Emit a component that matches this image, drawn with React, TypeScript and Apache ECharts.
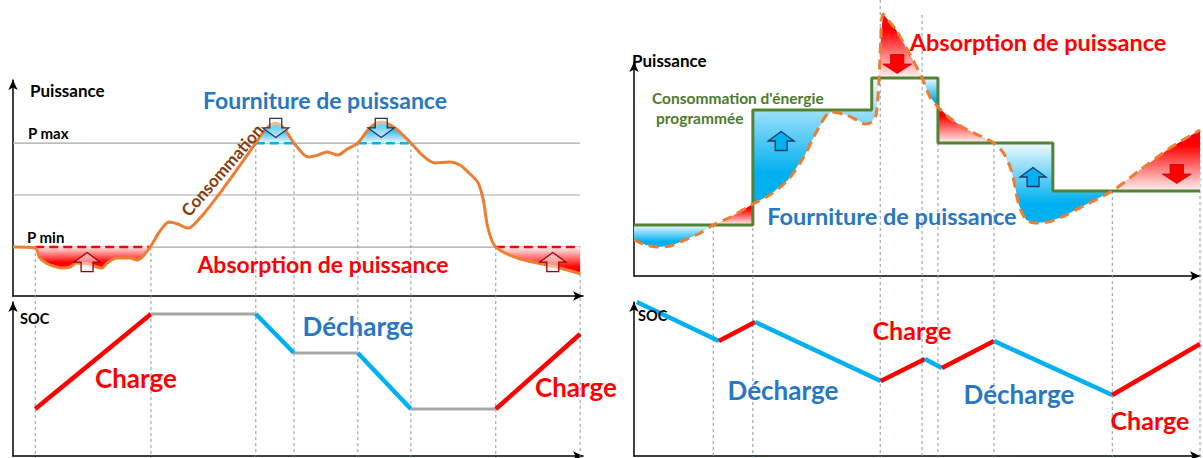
import React, { useEffect, useRef } from 'react';
import * as echarts from 'echarts';

type P = [number, number];

// ---------- left panel (constant thresholds) ----------
const leftLevels = [23.8, 49.1, 74.3]; // P min, middle, P max
const leftConsumption: P[] = [
  [0, 23.8], [3.9, 23.3], [4.7, 18.5], [5.8, 16], [7, 14.6], [8.6, 13.6], [10, 14.1], [11.1, 16],
  [13.2, 15.6], [14.7, 14.1], [15.6, 13.6], [16.5, 16], [18.2, 18.5], [20.5, 18.5], [21.8, 17.5],
  [22.8, 19.4], [24.2, 24.3], [25.8, 31.6], [27.4, 36], [28.9, 35], [30.7, 33], [32.8, 37.9],
  [35.4, 46.7], [39, 60.3], [42.6, 74.4], [44.2, 80.7], [46, 84], [47.5, 81.6], [49.3, 74.4],
  [51.8, 67.6], [53.5, 68.5], [55.1, 70], [57, 68.5], [58.4, 71], [60.5, 74.4], [62.6, 81.7],
  [64.6, 84.6], [67, 81.7], [69.8, 74.4], [72, 68], [74, 64.7], [76.7, 65.1], [78.4, 63.7],
  [80, 59.8], [81.6, 55], [82.5, 46.7], [83.2, 34.5], [84, 27], [84.7, 23.8], [86.3, 20.9],
  [89, 18], [92.1, 16], [96, 13.6], [99.5, 10.8],
];
// [x0, x1, level index, kind]  kind: a = absorption, f = fourniture
const leftRegions: [number, number, number, string][] = [
  [3.9, 24.2, 0, 'a'], [42.6, 49.3, 2, 'f'], [60.5, 69.8, 2, 'f'], [84.7, 99.5, 0, 'a'],
];
const leftArrows: [number, number, number][] = [
  [13, 16.5, 1], [94.7, 16.5, 1], [46.1, 81.7, -1], [64.6, 81.7, -1],
];
const leftMarkers: P[] = [
  [3.9, 23.8], [24.2, 23.8], [42.6, 74.3], [49.3, 74.3], [60.5, 74.3], [69.8, 74.3], [84.7, 23.8], [99.5, 10.8],
];
const leftSocX = [3.9, 24.2, 42.6, 49.3, 60.5, 69.8, 84.7, 99.5];
const leftSocY = [30.5, 92.2, 92.2, 66.9, 66.9, 30.5, 30.5, 79.2];
const leftSocKind = ['c', 'i', 'd', 'i', 'd', 'i', 'c'];

// ---------- right panel (scheduled consumption) ----------
const rightSchedule: P[] = [
  [0, 25.5], [21, 25.5], [21, 83], [42, 83], [42, 99], [53.7, 99], [53.7, 66.5],
  [74, 66.5], [74, 42.5], [100, 42.5],
];
const rightConsumption: P[] = [
  [0, 18], [2.1, 15.5], [4.2, 14.5], [6.4, 15], [9, 18], [11.7, 21.5], [14, 25.5], [17.1, 29.5],
  [21, 36], [24, 40.5], [27.2, 48], [30, 59.5], [32.7, 74.5], [34.8, 82], [37.5, 80.5],
  [39.4, 78], [40.8, 76], [42, 77], [42.8, 81], [43.3, 99], [43.6, 118], [44, 131], [45.2, 127],
  [46.3, 123], [48.8, 110.5], [50.9, 99], [52.3, 89.5], [53.7, 84.5], [55.8, 79], [58, 74.5],
  [60.8, 70.5], [63.6, 66.5], [65.5, 60.5], [66.8, 51.5], [68, 35.5], [69.3, 28], [70.8, 26.5],
  [73.1, 27], [75.6, 29.5], [79.7, 35.5], [84.5, 42.5], [89.4, 53], [94.7, 64], [100, 73],
];
const rightRegions: [number, number, string][] = [
  [0, 14, 'f'], [14, 21, 'a'], [21, 43.3, 'f'], [43.3, 50.9, 'a'], [50.9, 53.7, 'f'],
  [53.7, 63.6, 'a'], [63.6, 84.5, 'f'], [84.5, 100, 'a'],
];
const rightArrows: [number, number, number][] = [
  [26, 67.5, 1], [70.5, 49.5, 1], [46.5, 106, -1], [95.9, 51, -1],
];
const rightMarkers: P[] = [
  [14, 25.5], [21, 36], [43.5, 138], [50.9, 130.5], [53.7, 84.5], [63.6, 66.5], [84.5, 42.5], [100, 73],
];
const rightSocX = [0.5, 15, 21.4, 43.6, 51.4, 54.4, 63.6, 84.5, 100];
const rightSocY = [100, 74.7, 87, 48.7, 63, 57.1, 74.7, 39.6, 72.7];
const rightSocKind = ['d', 'c', 'd', 'c', 'd', 'c', 'd', 'c'];

const FONT = 'Lato, "Open Sans", sans-serif';
const RED = '#FF0000';
const CYAN = '#00B0F0';
const BLUE_TXT = '#2777C3';
const GREY = '#A6A6A6';
const PAGE_BOTTOM = 458;

function interp(pts: P[], x: number): number {
  if (x <= pts[0][0]) return pts[0][1];
  for (let i = 0; i < pts.length - 1; i++) {
    const a = pts[i], b = pts[i + 1];
    if (x >= a[0] && x <= b[0] && b[0] !== a[0]) return a[1] + ((b[1] - a[1]) * (x - a[0])) / (b[0] - a[0]);
  }
  return pts[pts.length - 1][1];
}

function stepAt(ref: P[], x: number, side: 'left' | 'right'): number {
  for (let i = 0; i < ref.length - 1; i++) {
    const a = ref[i], b = ref[i + 1];
    if (a[0] === b[0]) continue;
    const ok = side === 'left' ? x > a[0] && x <= b[0] : x >= a[0] && x < b[0];
    if (ok) return a[1] + ((b[1] - a[1]) * (x - a[0])) / (b[0] - a[0]);
  }
  return side === 'left' ? ref[ref.length - 1][1] : ref[0][1];
}

function regionPolygon(curve: P[], ref: P[], x0: number, x1: number): P[] {
  const pts: P[] = [[x0, interp(curve, x0)]];
  curve.forEach((p) => { if (p[0] > x0 && p[0] < x1) pts.push(p); });
  pts.push([x1, interp(curve, x1)]);
  pts.push([x1, stepAt(ref, x1, 'left')]);
  ref.filter((p) => p[0] > x0 && p[0] < x1).reverse().forEach((p) => pts.push(p));
  pts.push([x0, stepAt(ref, x0, 'right')]);
  return pts;
}

type Region = { x0: number; x1: number; ref: P[]; kind: string; dashed: boolean };

function fillSeries(grid: number, curve: P[], regions: Region[]) {
  return {
    type: 'custom',
    xAxisIndex: grid,
    yAxisIndex: grid,
    z: 2,
    silent: true,
    data: regions.map((r) => [r.x0, r.x1]),
    renderItem: (params: any, api: any) => {
      const r = regions[params.dataIndex];
      const poly = regionPolygon(curve, r.ref, r.x0, r.x1).map((p) => api.coord(p));
      const mid = (r.x0 + r.x1) / 2;
      const above = interp(curve, mid) > stepAt(r.ref, mid, 'right');
      const absorb = r.kind === 'a';
      const strong = absorb ? RED : CYAN;
      const light = absorb ? '#FFF4F4' : '#F0FAFE';
      const stops = above
        ? [{ offset: 0, color: strong }, { offset: 0.25, color: strong }, { offset: 1, color: light }]
        : [{ offset: 0, color: light }, { offset: 0.75, color: strong }, { offset: 1, color: strong }];
      const children: any[] = [
        { type: 'polygon', shape: { points: poly }, style: { fill: new echarts.graphic.LinearGradient(0, 0, 0, 1, stops) } },
      ];
      if (r.dashed) {
        const a = api.coord([r.x0, r.ref[0][1]]);
        const b = api.coord([r.x1, r.ref[0][1]]);
        children.push({
          type: 'line',
          shape: { x1: a[0], y1: a[1], x2: b[0], y2: b[1] },
          style: { stroke: absorb ? RED : CYAN, lineWidth: 2.5, lineDash: [9, 5] },
          z2: 5,
        });
      }
      return { type: 'group', children };
    },
  };
}

function arrowPoints(cx: number, cy: number, dir: number, w: number, h: number) {
  const hw = w / 2, sw = w * 0.23, hh = h * 0.5;
  const pts = [[0, -h / 2], [hw, -h / 2 + hh], [sw, -h / 2 + hh], [sw, h / 2], [-sw, h / 2], [-sw, -h / 2 + hh], [-hw, -h / 2 + hh]];
  return pts.map(([x, y]) => [cx + x, cy + y * dir]);
}

function arrowSeries(grid: number, arrows: [number, number, number][], solid: boolean) {
  return {
    type: 'custom',
    xAxisIndex: grid,
    yAxisIndex: grid,
    z: 6,
    silent: true,
    data: arrows.map((a) => [a[0], a[1]]),
    renderItem: (params: any, api: any) => {
      const a = arrows[params.dataIndex];
      const c = api.coord([a[0], a[1]]);
      const up = a[2] > 0;
      let style: any;
      if (solid) {
        style = up
          ? { fill: CYAN, stroke: '#1F3864', lineWidth: 1.3 }
          : { fill: RED, stroke: '#C00000', lineWidth: 0.8 };
      } else {
        style = up
          ? { fill: 'rgba(255,235,235,0.55)', stroke: '#A00000', lineWidth: 1.3 }
          : { fill: 'rgba(255,255,255,0.45)', stroke: '#1F3864', lineWidth: 1.3 };
      }
      return { type: 'polygon', shape: { points: arrowPoints(c[0], c[1], a[2], solid && !up ? 29 : 26, 19) }, style };
    },
  };
}

function markerSeries(grid: number, markers: P[]) {
  return {
    type: 'custom',
    xAxisIndex: grid,
    yAxisIndex: grid,
    z: 1,
    silent: true,
    data: markers,
    renderItem: (params: any, api: any) => {
      const c = api.coord(markers[params.dataIndex]);
      return {
        type: 'line',
        shape: { x1: c[0], y1: c[1], x2: c[0], y2: PAGE_BOTTOM },
        style: { stroke: '#8497B0', lineWidth: 1, lineDash: [3, 3] },
      };
    },
  };
}

function socSeries(grid: number, xs: number[], ys: number[], kinds: string[]) {
  return kinds.map((k, i) => ({
    type: 'line',
    xAxisIndex: grid,
    yAxisIndex: grid,
    z: 4,
    silent: true,
    clip: false,
    symbol: 'none',
    data: [[xs[i], ys[i]], [xs[i + 1], ys[i + 1]]],
    lineStyle: { color: k === 'c' ? RED : k === 'd' ? CYAN : GREY, width: k === 'i' ? 3 : 4.5, cap: 'butt' },
  }));
}

function axisCommon(grid: number, max: number) {
  return {
    type: 'value',
    gridIndex: grid,
    min: 0,
    max,
    axisLine: { show: true, onZero: false, symbol: ['none', 'arrow'], symbolSize: [7, 10], lineStyle: { color: '#000', width: 1.5 } },
    axisTick: { show: false },
    axisLabel: { show: false },
    splitLine: { show: false },
  };
}

function txt(text: string, x: number, y: number, size: number, fill: string, align = 'center', rotation = 0) {
  return {
    type: 'text',
    x,
    y,
    rotation,
    z: 20,
    silent: true,
    style: { text, fill, font: `bold ${size}px ${FONT}`, align, verticalAlign: 'middle', textAlign: align, textVerticalAlign: 'middle' },
  };
}

function buildOption() {
  const leftRegs: Region[] = leftRegions.map(([x0, x1, li, kind]) => ({
    x0, x1, kind, dashed: true,
    ref: [[0, leftLevels[li]], [100, leftLevels[li]]] as P[],
  }));
  const rightRegs: Region[] = rightRegions.map(([x0, x1, kind]) => ({ x0, x1, kind, dashed: false, ref: rightSchedule }));

  const series: any[] = [
    ...leftLevels.map((v) => ({
      type: 'line', xAxisIndex: 0, yAxisIndex: 0, z: 1, silent: true, symbol: 'none',
      data: [[0, v], [99.5, v]], lineStyle: { color: GREY, width: 1.2 },
    })),
    markerSeries(0, leftMarkers),
    fillSeries(0, leftConsumption, leftRegs),
    {
      type: 'line', xAxisIndex: 0, yAxisIndex: 0, z: 5, silent: true, symbol: 'none', smooth: 0.3, clip: false,
      data: leftConsumption, lineStyle: { color: '#ED7D31', width: 3 },
    },
    arrowSeries(0, leftArrows, false),
    ...socSeries(1, leftSocX, leftSocY, leftSocKind),

    markerSeries(2, rightMarkers),
    fillSeries(2, rightConsumption, rightRegs),
    {
      type: 'line', xAxisIndex: 2, yAxisIndex: 2, z: 4, silent: true, symbol: 'none', clip: false,
      data: rightSchedule, lineStyle: { color: '#548235', width: 3 },
    },
    {
      type: 'line', xAxisIndex: 2, yAxisIndex: 2, z: 5, silent: true, symbol: 'none', smooth: 0.3, clip: false,
      data: rightConsumption, lineStyle: { color: '#ED7D31', width: 3, type: [10, 6] },
    },
    arrowSeries(2, rightArrows, true),
    ...socSeries(3, rightSocX, rightSocY, rightSocKind),
  ];

  return {
    animation: false,
    backgroundColor: '#ffffff',
    grid: [
      { left: 13, top: 80, width: 570, height: 216 },
      { left: 13, top: 302, width: 570, height: 154 },
      { left: 634, top: 62, width: 566, height: 214 },
      { left: 634, top: 302, width: 566, height: 154 },
    ],
    xAxis: [0, 1, 2, 3].map((g) => axisCommon(g, 100)),
    yAxis: [axisCommon(0, 105), axisCommon(1, 100), axisCommon(2, 107), axisCommon(3, 100)],
    series,
    graphic: [
      txt('Puissance', 30, 90, 17, '#000', 'left'),
      txt('P max', 28, 133, 15, '#000', 'left'),
      txt('P min', 27, 237, 15, '#000', 'left'),
      txt('Fourniture de puissance', 325, 100, 23, BLUE_TXT),
      txt('Absorption de puissance', 323, 264, 23, RED),
      txt('Consommation', 222, 170, 17, '#843C0C', 'center', 0.855),
      txt('SOC', 20, 318, 14.5, '#000', 'left'),
      txt('Charge', 136, 378, 26, RED),
      txt('Décharge', 358, 326, 26, BLUE_TXT),
      txt('Charge', 576, 387, 26, RED),

      txt('Puissance', 632, 60, 17, '#000', 'left'),
      txt('Absorption de puissance', 1038, 42, 23.5, RED),
      txt("Consommation d'énergie", 652, 98, 15.5, '#4E7A2E', 'left'),
      txt('programmée', 656, 118, 15.5, '#4E7A2E', 'left'),
      txt('Fourniture de puissance', 892, 216, 23.5, BLUE_TXT),
      txt('SOC', 638, 315, 14.5, '#000', 'left'),
      txt('Décharge', 783, 390, 26, BLUE_TXT),
      txt('Charge', 912, 330, 25, RED),
      txt('Décharge', 1019, 394, 26, BLUE_TXT),
      txt('Charge', 1150, 420, 25, RED),
    ],
  };
}

export default function App() {
  const ref = useRef<HTMLDivElement>(null);
  useEffect(() => {
    const chart = echarts.init(ref.current as HTMLDivElement, null, { renderer: 'svg' });
    chart.setOption(buildOption() as any);
    return () => chart.dispose();
  }, []);
  return (
    <div
      ref={ref}
      style={{ position: 'absolute', left: 0, top: 0, width: 1203, height: 458, background: '#fff' }}
    />
  );
}
